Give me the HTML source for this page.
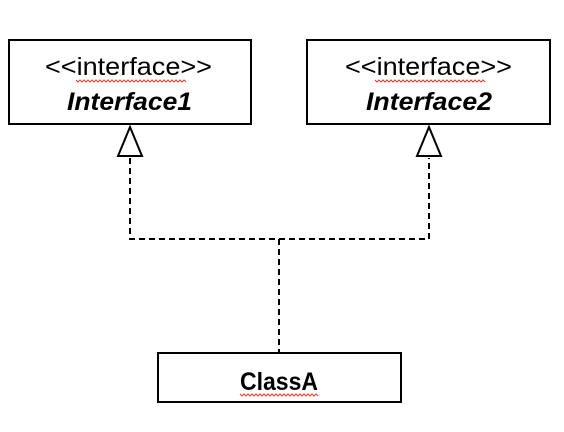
<!DOCTYPE html>
<html><head><style>body{margin:0;background:#fff}svg{display:block}</style></head>
<body>
<svg width="564" height="432" xmlns="http://www.w3.org/2000/svg">
<rect x="0" y="0" width="564" height="432" fill="#fff"/>
<g fill="#fff" stroke="#000" stroke-width="2">
<rect x="9" y="40" width="242" height="84"/>
<rect x="307" y="40" width="243" height="84"/>
<rect x="158" y="353" width="243" height="49"/>
</g>
<g fill="none" stroke="#000" stroke-width="2" stroke-dasharray="6,4">
<path d="M130 158 V239 H429 V158"/>
<path d="M279 239 V352"/>
</g>
<g fill="#fff" stroke="#000" stroke-width="2">
<path d="M130 127 L118 156 H142 Z"/>
<path d="M429 127 L417 156 H441 Z"/>
</g>
<g font-family="Liberation Sans, sans-serif" fill="#000">
<text x="45" y="75" font-size="25" textLength="167" lengthAdjust="spacingAndGlyphs">&lt;&lt;interface&gt;&gt;</text>
<text x="67" y="110" font-size="25" font-weight="bold" font-style="italic" textLength="125" lengthAdjust="spacingAndGlyphs">Interface1</text>
<text x="345" y="75" font-size="25" textLength="167" lengthAdjust="spacingAndGlyphs">&lt;&lt;interface&gt;&gt;</text>
<text x="366" y="110" font-size="25" font-weight="bold" font-style="italic" textLength="126" lengthAdjust="spacingAndGlyphs">Interface2</text>
<text x="240" y="390" font-size="25" font-weight="bold" textLength="78" lengthAdjust="spacingAndGlyphs">ClassA</text>
</g>
<g fill="none" stroke="#e53b2e" stroke-width="1">
<path d="M76 80 l2 2 l2 -2 l2 2 l2 -2 l2 2 l2 -2 l2 2 l2 -2 l2 2 l2 -2 l2 2 l2 -2 l2 2 l2 -2 l2 2 l2 -2 l2 2 l2 -2 l2 2 l2 -2 l2 2 l2 -2 l2 2 l2 -2 l2 2 l2 -2 l2 2 l2 -2 l2 2 l2 -2 l2 2 l2 -2 l2 2 l2 -2 l2 2 l2 -2 l2 2 l2 -2 l2 2 l2 -2 l2 2 l2 -2 l2 2 l2 -2 l2 2 l2 -2 l2 2 l2 -2 l2 2 l2 -2 l2 2 l2 -2 l2 2 l2 -2 l2 2"/>
<path d="M375 80 l2 2 l2 -2 l2 2 l2 -2 l2 2 l2 -2 l2 2 l2 -2 l2 2 l2 -2 l2 2 l2 -2 l2 2 l2 -2 l2 2 l2 -2 l2 2 l2 -2 l2 2 l2 -2 l2 2 l2 -2 l2 2 l2 -2 l2 2 l2 -2 l2 2 l2 -2 l2 2 l2 -2 l2 2 l2 -2 l2 2 l2 -2 l2 2 l2 -2 l2 2 l2 -2 l2 2 l2 -2 l2 2 l2 -2 l2 2 l2 -2 l2 2 l2 -2 l2 2 l2 -2 l2 2 l2 -2 l2 2 l2 -2 l2 2 l2 -2 l2 2"/>
<path d="M240 394 l2 2 l2 -2 l2 2 l2 -2 l2 2 l2 -2 l2 2 l2 -2 l2 2 l2 -2 l2 2 l2 -2 l2 2 l2 -2 l2 2 l2 -2 l2 2 l2 -2 l2 2 l2 -2 l2 2 l2 -2 l2 2 l2 -2 l2 2 l2 -2 l2 2 l2 -2 l2 2 l2 -2 l2 2 l2 -2 l2 2 l2 -2 l2 2 l2 -2 l2 2 l2 -2 l2 2"/>
</g>
</svg>
</body></html>
